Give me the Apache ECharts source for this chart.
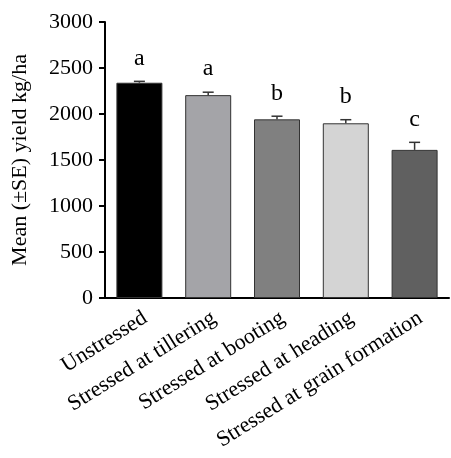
<!DOCTYPE html>
<html><head><meta charset="utf-8">
<script src="https://cdn.jsdelivr.net/npm/echarts@6/dist/echarts.min.js"></script>
<style>html,body{margin:0;padding:0;background:#fff}#c{width:451px;height:458px}</style>
</head><body><div id="c"></div>
<script>
const categories = ['Unstressed','Stressed at tillering','Stressed at booting','Stressed at heading','Stressed at grain formation'];
const means = [2340, 2205, 1942, 1899, 1610];
const errors = [15, 32, 34, 39, 82];
const letters = ['a','a','b','b','c'];
const barColors = ['#000000','#a4a4a8','#808080','#d4d4d4','#606060'];
const yTicks = [0,500,1000,1500,2000,2500,3000];

const FONT = "'Liberation Serif', 'Times New Roman', serif";
const chart = echarts.init(document.getElementById('c'), null, {renderer:'canvas'});
chart.setOption({
  animation:false,
  grid:{left:105,right:2,top:22,bottom:160,containLabel:false},
  xAxis:{type:'category',data:categories,
    axisLine:{lineStyle:{color:'#000',width:2}},
    axisTick:{alignWithLabel:true,length:6,lineStyle:{color:'#000',width:2}},
    axisLabel:{rotate:32,fontFamily:FONT,fontSize:22,color:'#000',margin:9,interval:0,verticalAlign:'top'}},
  yAxis:{type:'value',min:yTicks[0],max:yTicks[yTicks.length-1],interval:500,
    name:'Mean (\u00B1SE) yield kg/ha',nameLocation:'middle',nameGap:74,nameRotate:90,
    nameTextStyle:{fontFamily:FONT,fontSize:22,color:'#000'},
    axisLine:{show:true,lineStyle:{color:'#000',width:2}},
    axisTick:{show:true,length:6,lineStyle:{color:'#000',width:2}},
    splitLine:{show:false},
    axisLabel:{fontFamily:FONT,fontSize:22,color:'#000',margin:12,formatter:v=>String(v)}},
  series:[
    {type:'bar',barWidth:46,
     data:means.map((v,i)=>({value:v,itemStyle:{color:barColors[i],borderColor:'#333',borderWidth:1}}))},
    {type:'custom',
     data:means.map((v,i)=>[i,v,errors[i]]),
     renderItem:function(params,api){
       const i=api.value(0), m=api.value(1), e=api.value(2);
       const p0=api.coord([i,m]); const p1=api.coord([i,m+e]);
       const hw=5.5;
       return {type:'group',children:[
         {type:'line',shape:{x1:p0[0],y1:p0[1],x2:p1[0],y2:p1[1]},style:{stroke:'#333',lineWidth:1.5}},
         {type:'line',shape:{x1:p1[0]-hw,y1:p1[1],x2:p1[0]+hw,y2:p1[1]},style:{stroke:'#333',lineWidth:1.5}},
         {type:'text',x:p1[0],y:p1[1]-11,style:{text:letters[params.dataIndex],fontFamily:FONT,fontSize:24,fill:'#000',align:'center',verticalAlign:'bottom'}}
       ]};
     },z:5}
  ]
});
</script></body></html>
